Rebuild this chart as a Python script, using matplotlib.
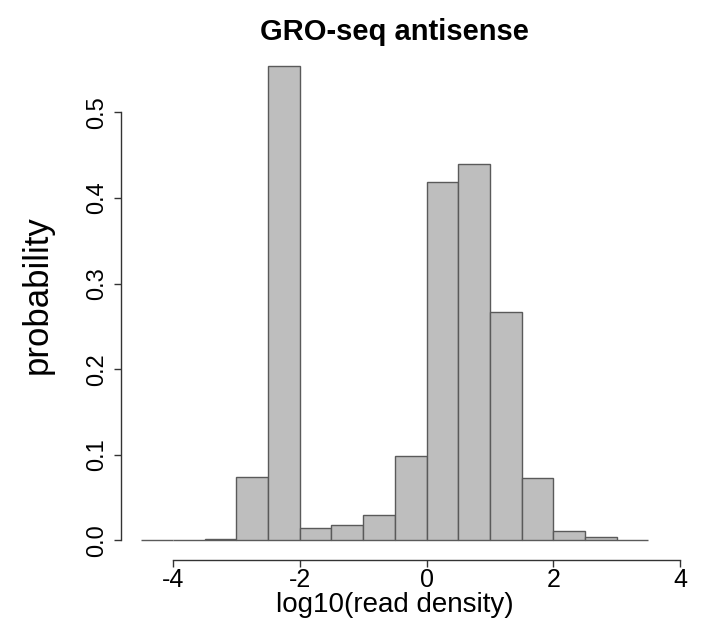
import matplotlib
matplotlib.use("Agg")
import matplotlib.pyplot as plt
import numpy as np

# Histogram bins (log10 read density) and probability densities
bin_edges = [-4.5, -4.0, -3.5, -3.0, -2.5, -2.0, -1.5, -1.0, -0.5,
             0.0, 0.5, 1.0, 1.5, 2.0, 2.5, 3.0, 3.5]
densities = [0.0, 0.0, 0.002, 0.074, 0.554, 0.014, 0.018, 0.030, 0.099,
             0.419, 0.439, 0.267, 0.073, 0.011, 0.0043, 0.001]
x_ticks = [-4, -2, 0, 2, 4]
y_ticks = [0.0, 0.1, 0.2, 0.3, 0.4, 0.5]
y_tick_labels = ["0.0", "0.1", "0.2", "0.3", "0.4", "0.5"]
title = "GRO-seq antisense"
x_label = "log10(read density)"
y_label = "probability"

plt.rcParams['font.family'] = ['Liberation Sans', 'DejaVu Sans']

W, H = 705, 621
fig = plt.figure(figsize=(W / 100, H / 100), dpi=100)

# axes geometry in pixels
ax_left, ax_right = 121, 682.7
ax_top, ax_bottom = 47.1, 559.5
ax = fig.add_axes([ax_left / W, 1 - ax_bottom / H,
                   (ax_right - ax_left) / W, (ax_bottom - ax_top) / H])

edges = np.array(bin_edges)
lefts = edges[:-1]
widths = np.diff(edges)
ax.bar(lefts, densities, width=widths, align='edge',
       color='#bebebe', edgecolor='#5a5a5a', linewidth=1.0)

ax.set_xlim(-4.82, 4.04)
ax.set_ylim(-0.0222, 0.576)

for s in ['top', 'right']:
    ax.spines[s].set_visible(False)
ax.spines['left'].set_bounds(0, 0.5)
ax.spines['bottom'].set_bounds(-4, 4)
for s in ['left', 'bottom']:
    ax.spines[s].set_color('#333333')
    ax.spines[s].set_linewidth(1.0)

ax.set_xticks(x_ticks)
ax.set_xticklabels([str(t) for t in x_ticks])
ax.set_yticks(y_ticks)
ax.set_yticklabels(y_tick_labels)
ax.tick_params(axis='x', direction='out', length=5, width=1.0, color='#333333',
               labelsize=18, pad=1)
ax.tick_params(axis='y', direction='out', length=5, width=1.0, color='#333333',
               labelsize=17, pad=4, labelrotation=90)
for lab in ax.get_yticklabels():
    lab.set_va('center')

ax.set_xlabel(x_label, fontsize=20)
ax.xaxis.set_label_coords((395 - ax_left) / (ax_right - ax_left),
                          -(592 - ax_bottom) / (ax_bottom - ax_top))
ax.xaxis.label.set_va('top')

ax.set_ylabel(y_label, fontsize=25)
ax.yaxis.set_label_coords(-(ax_left - 37) / (ax_right - ax_left),
                          (ax_bottom - 295) / (ax_bottom - ax_top))
ax.yaxis.label.set_va('center')

fig.text(394.5 / W, 1 - 32 / H, title, fontsize=21, fontweight='bold',
         ha='center', va='center')

fig.savefig("out.png", dpi=100)
